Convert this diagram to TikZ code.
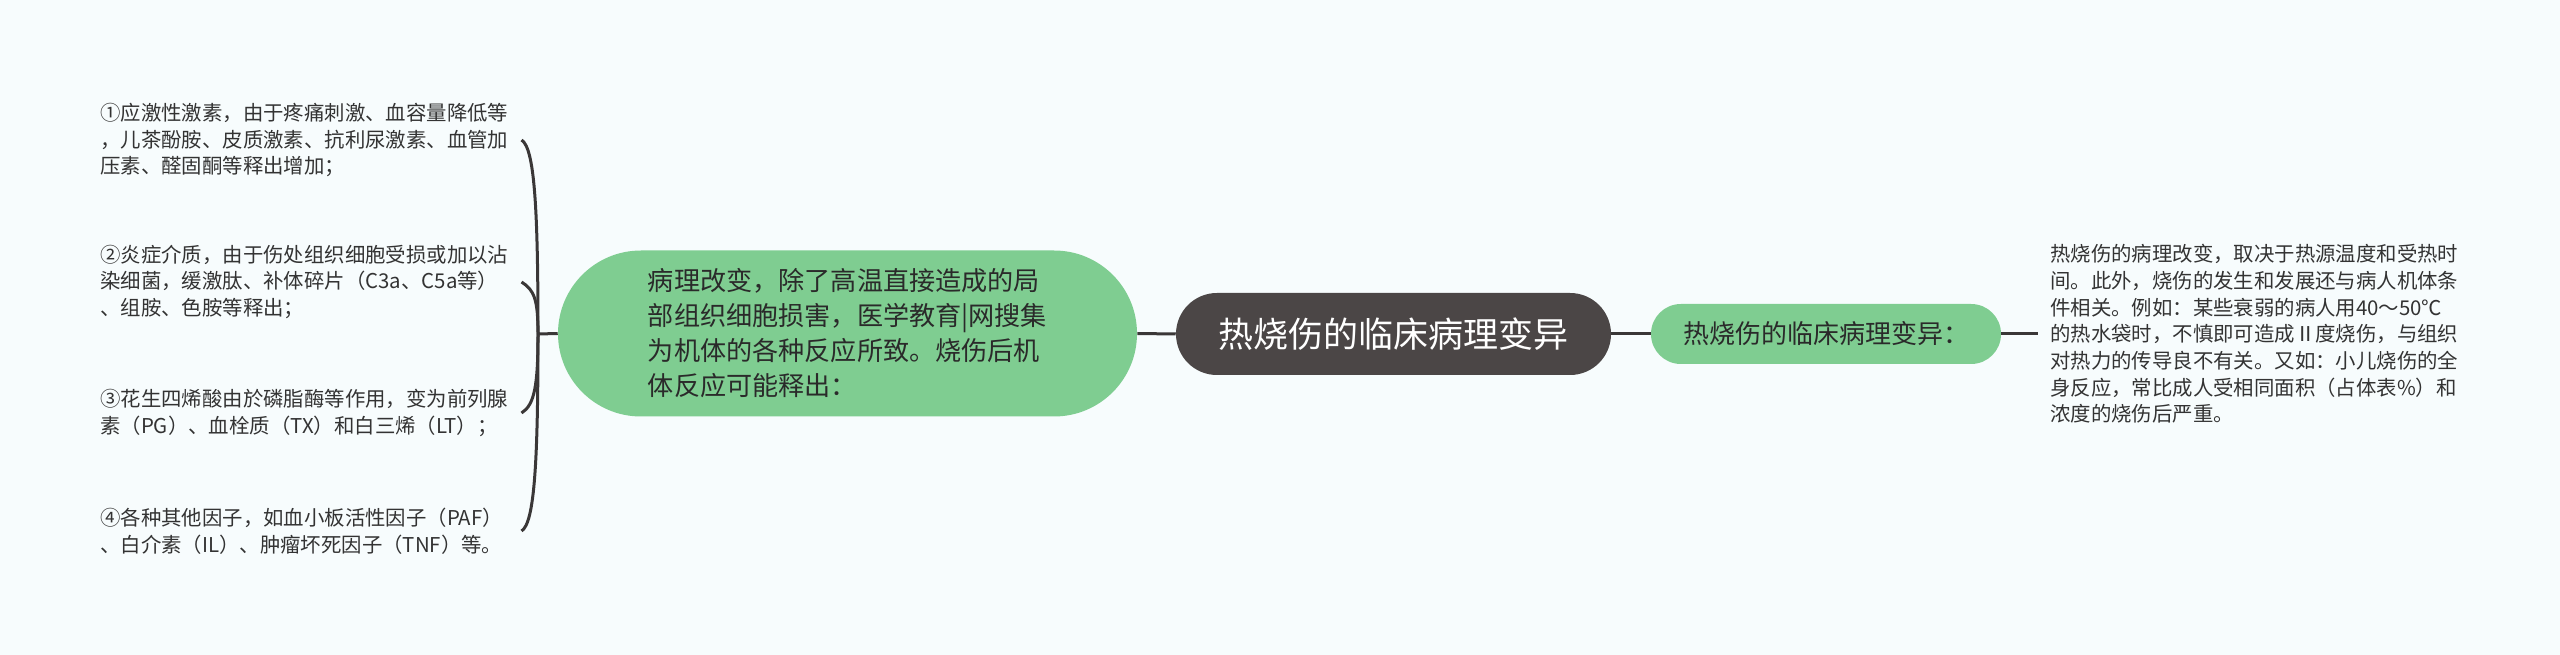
\documentclass[tikz,border=0pt]{standalone}
\usepackage{fontspec}
\setmainfont{Noto Sans CJK SC}
\usetikzlibrary{calc}
\definecolor{bg}{HTML}{F7FCFD}
\definecolor{gfill}{HTML}{7FCD91}
\definecolor{dfill}{HTML}{4B4646}
\definecolor{linec}{HTML}{3A3737}
\definecolor{leafc}{HTML}{333333}
\definecolor{gtext}{HTML}{2A2A2A}
\begin{document}
\begin{tikzpicture}[x=0.75pt,y=-0.75pt,
  leaf/.style={anchor=west, inner sep=0pt, text width=307.5pt, align=left,
    font=\fontsize{15.3pt}{20pt}\selectfont, text=leafc},
  greenbig/.style={fill=gfill, inner sep=0pt, minimum width=434.25pt, minimum height=124.5pt,
    rounded corners=62.2pt, align=left, text=gtext, font=\fontsize{19.6pt}{26.25pt}\selectfont},
  centralbox/.style={fill=dfill, inner sep=0pt, minimum width=326.25pt, minimum height=61.5pt,
    rounded corners=30.7pt, text=white, font=\fontsize{26.25pt}{30pt}\selectfont},
  greensmall/.style={fill=gfill, inner sep=0pt, minimum width=262.5pt, minimum height=45pt,
    rounded corners=22.4pt, text=gtext, font=\fontsize{19.5pt}{24pt}\selectfont},
  conn/.style={draw=linec, line width=2.25pt}]
\fill[bg] (0,0) rectangle (2560,655);
\useasboundingbox (0,0) rectangle (2560,655);

\node[leaf] (l1) at (100,140) {①应激性激素，由于疼痛刺激、血容量降低等\\，儿茶酚胺、皮质激素、抗利尿激素、血管加\\压素、醛固酮等释出增加；};
\node[leaf] (l2) at (100,282) {②炎症介质，由于伤处组织细胞受损或加以沾\\染细菌，缓激肽、补体碎片（C3a、C5a等）\\、组胺、色胺等释出；};
\node[leaf] (l3) at (100,413) {③花生四烯酸由於磷脂酶等作用，变为前列腺\\素（PG）、血栓质（TX）和白三烯（LT）；};
\node[leaf] (l4) at (100,531) {④各种其他因子，如血小板活性因子（PAF）\\、白介素（IL）、肿瘤坏死因子（TNF）等。};

\node[greenbig] (g1) at (847.5,333.5) {病理改变，除了高温直接造成的局\\部组织细胞损害，医学教育|网搜集\\为机体的各种反应所致。烧伤后机\\体反应可能释出：};
\node[centralbox] (c) at (1393.5,334) {热烧伤的临床病理变异};
\node[greensmall] (g2) at (1826,334) {热烧伤的临床病理变异：};
\node[leaf] (rt) at (2050,334) {热烧伤的病理改变，取决于热源温度和受热时\\间。此外，烧伤的发生和发展还与病人机体条\\件相关。例如：某些衰弱的病人用40～50℃\\的热水袋时，不慎即可造成Ⅱ度烧伤，与组织\\对热力的传导良不有关。又如：小儿烧伤的全\\身反应，常比成人受相同面积（占体表\%）和\\浓度的烧伤后严重。};

\coordinate (J) at (538,334);
\coordinate (e1) at ($(l1.east)+(11,0)$);
\coordinate (e2) at ($(l2.east)+(11,0)$);
\coordinate (e3) at ($(l3.east)+(11,0)$);
\coordinate (e4) at ($(l4.east)+(11,0)$);
\coordinate (rtin) at ($(rt.west)+(-12,0)$);

\draw[conn] (g1.west) -- (J);
\draw[conn] (J) .. controls ($(J)!0.65!(J|-e1)$) and ($(e1)+(13,8)$) .. (e1);
\draw[conn] (J) .. controls ($(J)!0.65!(J|-e2)$) and ($(e2)+(13,8)$) .. (e2);
\draw[conn] (J) .. controls ($(J)!0.65!(J|-e3)$) and ($(e3)+(13,-8)$) .. (e3);
\draw[conn] (J) .. controls ($(J)!0.65!(J|-e4)$) and ($(e4)+(13,-8)$) .. (e4);
\draw[conn] (g1.east) -- (c.west);
\draw[conn] (c.east) -- (g2.west);
\draw[conn] (g2.east) -- (rtin);
\end{tikzpicture}
\end{document}
